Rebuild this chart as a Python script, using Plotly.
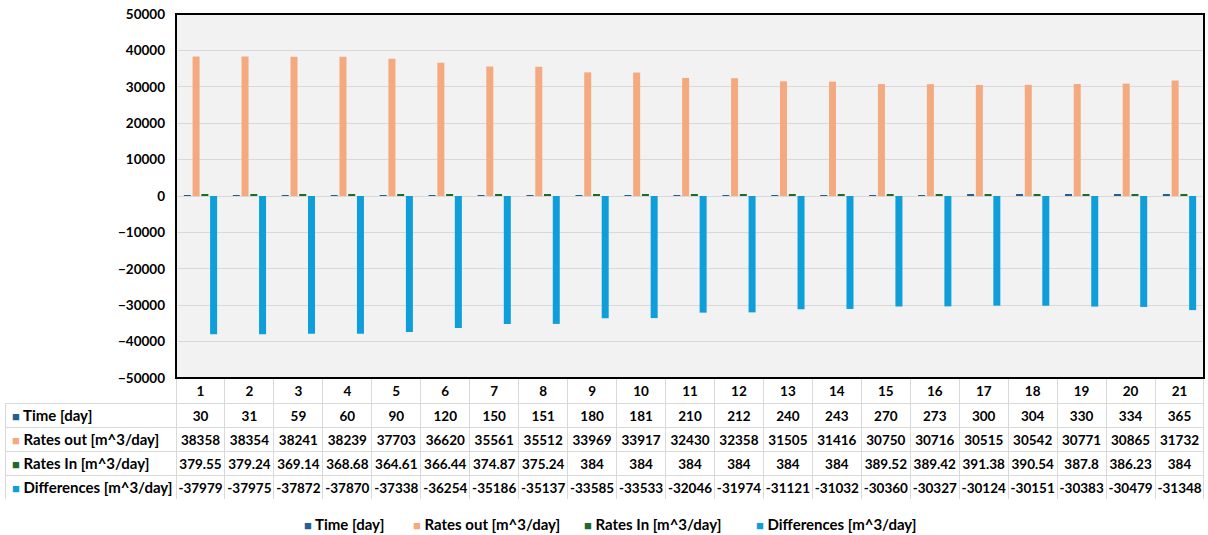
import plotly.graph_objects as go

categories = [str(i) for i in range(1, 22)]
time_day = [30, 31, 59, 60, 90, 120, 150, 151, 180, 181, 210, 212, 240, 243, 270, 273, 300, 304, 330, 334, 365]
rates_out = [38358, 38354, 38241, 38239, 37703, 36620, 35561, 35512, 33969, 33917, 32430, 32358,
             31505, 31416, 30750, 30716, 30515, 30542, 30771, 30865, 31732]
rates_in = [379.55, 379.24, 369.14, 368.68, 364.61, 366.44, 374.87, 375.24, 384, 384, 384, 384,
            384, 384, 389.52, 389.42, 391.38, 390.54, 387.8, 386.23, 384]
differences = [-37979, -37975, -37872, -37870, -37338, -36254, -35186, -35137, -33585, -33533, -32046,
               -31974, -31121, -31032, -30360, -30327, -30124, -30151, -30383, -30479, -31348]

series_names = ["Time [day]", "Rates out [m^3/day]", "Rates In [m^3/day]", "Differences [m^3/day]"]
series_values = [time_day, rates_out, rates_in, differences]
colors = ["#255E91", "#F4A97F", "#1E6B2A", "#0E9FDB"]

FONT = "Lato"
W, H = 1208, 535
ml, mr, mt, mb = 5, 4, 14, 35
pw = W - ml - mr
ph = H - mt - mb
plot_left = 176
plot_bottom = 378
x0 = (plot_left - ml) / pw
y0 = 1 - (plot_bottom - mt) / ph
HEADER_H, ROW_H = 25, 24

fig = go.Figure()
for name, vals, col in zip(series_names, series_values, colors):
    fig.add_trace(go.Bar(x=categories, y=vals, name=name, marker=dict(color=col, line=dict(width=0)),
                         xaxis="x", yaxis="y", showlegend=False))

def fmt(v):
    return f"{v:g}"

def key(n, c):
    return f'<span style="color:{c};font-size:13px">■</span> {n}'

cols = [[""] * 4] + [[fmt(series_values[s][i]) for s in range(4)] for i in range(len(categories))]
cat_w = (W - mr - plot_left) / len(categories)

fig.add_trace(go.Table(
    domain=dict(x=[0, 1], y=[0, y0]),
    columnwidth=[plot_left - ml] + [cat_w] * len(categories),
    header=dict(values=[""] + categories,
                fill=dict(color=["rgba(0,0,0,0)"] + ["white"] * len(categories)),
                line=dict(color=["rgba(0,0,0,0)"] + ["#D9D9D9"] * len(categories), width=1),
                align="center", height=HEADER_H,
                font=dict(family=FONT, size=13.5, color="black", weight="bold")),
    cells=dict(values=cols, fill=dict(color="white"),
               line=dict(color="#D9D9D9", width=1),
               align="center", height=ROW_H,
               font=dict(family=FONT, size=13.5, color="black", weight="bold")),
))

label_font = dict(family=FONT, size=15, color="black", weight="bold")

# row labels of the data table (with colour keys)
for i, (n, c) in enumerate(zip(series_names, colors)):
    yc = plot_bottom + HEADER_H + ROW_H * i + ROW_H / 2
    fig.add_annotation(text=key(n, c), x=(10 - ml) / pw, xref="paper", xanchor="left",
                       y=(H - mb - yc) / ph, yref="paper", yanchor="middle", showarrow=False,
                       font=label_font)

# legend drawn as text keys below the table
legend_x = [302, 411, 582, 754]
for n, c, lx in zip(series_names, colors, legend_x):
    fig.add_annotation(text=key(n, c), x=(lx - ml) / pw, xref="paper", xanchor="left",
                       y=(H - mb - 524) / ph, yref="paper", yanchor="middle", showarrow=False,
                       font=label_font)

fig.add_shape(type="rect", xref="x domain", yref="y domain", x0=0, x1=1, y0=0, y1=1,
              line=dict(color="black", width=2), fillcolor="rgba(0,0,0,0)", layer="above")

fig.update_layout(
    width=W, height=H,
    margin=dict(l=ml, r=mr, t=mt, b=mb),
    paper_bgcolor="white",
    plot_bgcolor="#F2F2F2",
    barmode="group", bargap=0.285, bargroupgap=0.2,
    font=dict(family=FONT, size=13, color="black"),
    xaxis=dict(domain=[x0, 1], showticklabels=False, ticks="", showgrid=False,
               showline=False, zeroline=False),
    yaxis=dict(domain=[y0, 1], range=[-50000, 50000], dtick=10000, tickformat="d",
               showgrid=True, gridcolor="#D9D9D9", gridwidth=1,
               zeroline=True, zerolinecolor="#D9D9D9", zerolinewidth=1,
               showline=False,
               ticks="", ticklabelstandoff=10,
               tickfont=dict(family=FONT, size=13.5, color="black", weight="bold")),
    showlegend=False,
)

fig.write_html("out.html", config={"displayModeBar": False},
               post_script="document.body.style.margin='0';document.body.style.overflow='hidden';")
